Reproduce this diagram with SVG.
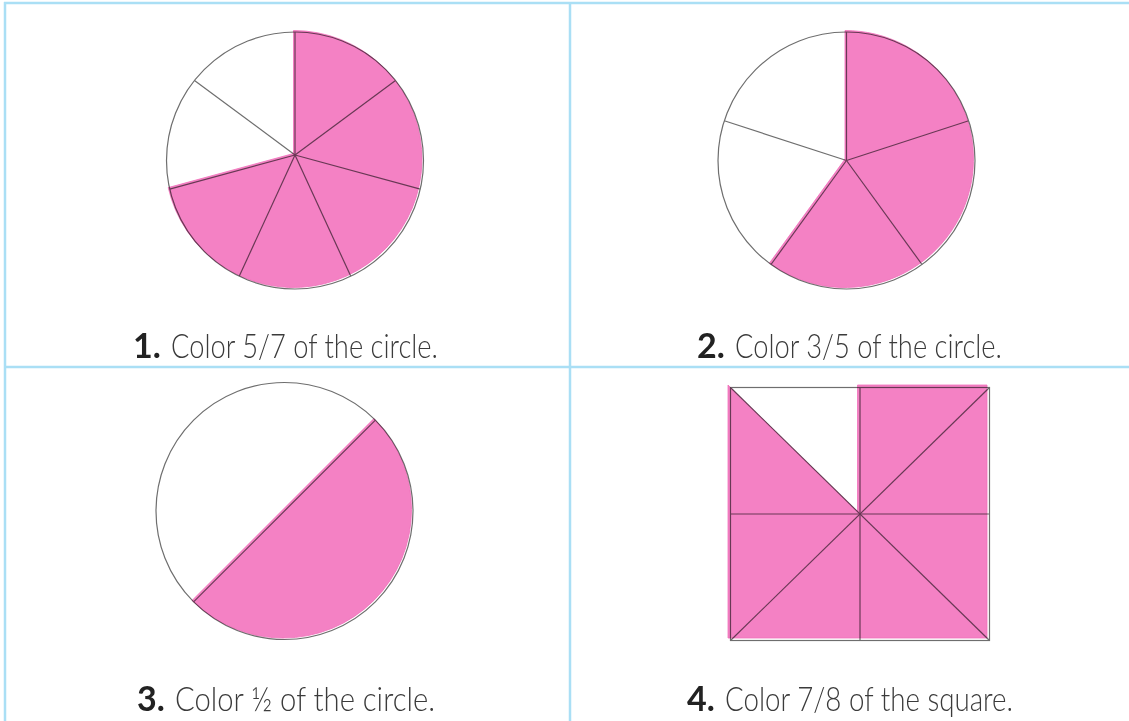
<svg xmlns="http://www.w3.org/2000/svg" width="1129" height="721" viewBox="0 0 1129 721">
<style>
.grid{stroke:#aadff5;stroke-width:2.5;fill:none}
.ol{stroke:#6e6e6e;stroke-width:1.2;fill:none}
.pink{fill:#f481c4;stroke:#f070ba;stroke-width:0.8;mix-blend-mode:multiply}
.lbl{font-family:Lato,"Open Sans","Liberation Sans",sans-serif;font-size:34px;font-weight:300;fill:#3b3b3b}
.num{font-family:Lato,"Open Sans","Liberation Sans",sans-serif;font-size:34px;font-weight:700;fill:#222}
</style>
<rect width="1129" height="721" fill="#fff"/>
<g id="grid">
<line class="grid" x1="4" y1="3" x2="1129" y2="3"/>
<line class="grid" x1="4" y1="367" x2="1129" y2="367"/>
<line class="grid" x1="5" y1="2" x2="5" y2="721"/>
<line class="grid" x1="570" y1="2" x2="570" y2="721"/>
</g>
<g id="fig1">
<circle class="ol" cx="295" cy="160.5" r="128.5"/>
<g class="ol">
<line x1="295" y1="155" x2="295" y2="32"/>
<line x1="295" y1="155" x2="395.5" y2="80.4"/>
<line x1="295" y1="155" x2="420.3" y2="189.1"/>
<line x1="295" y1="155" x2="350.8" y2="276.3"/>
<line x1="295" y1="155" x2="239.2" y2="276.3"/>
<line x1="295" y1="155" x2="169.7" y2="189.1"/>
<line x1="295" y1="155" x2="194.5" y2="80.4"/>
</g>
<path class="pink" transform="translate(-1.5,-1.5)" d="M295,155 L295,32 A128.5,128.5 0 1 1 169.7,189.1 Z"/>
</g>
<g id="fig2">
<circle class="ol" cx="846.5" cy="160.5" r="128.5"/>
<g class="ol">
<line x1="846.5" y1="160.5" x2="846.5" y2="32"/>
<line x1="846.5" y1="160.5" x2="968.7" y2="120.8"/>
<line x1="846.5" y1="160.5" x2="922" y2="264.5"/>
<line x1="846.5" y1="160.5" x2="771" y2="264.5"/>
<line x1="846.5" y1="160.5" x2="724.3" y2="120.8"/>
</g>
<path class="pink" transform="translate(-1.5,-1.5)" d="M846.5,160.5 L846.5,32 A128.5,128.5 0 1 1 771,264.5 Z"/>
</g>
<g id="fig3">
<circle class="ol" cx="284.5" cy="511" r="128.5"/>
<line class="ol" x1="375.4" y1="420.1" x2="193.6" y2="601.9"/>
<path class="pink" transform="translate(-1.5,-1.5)" d="M375.4,420.1 A128.5,128.5 0 0 1 193.6,601.9 Z"/>
</g>
<g id="fig4">
<rect class="ol" x="730.5" y="387.5" width="259" height="253"/>
<g class="ol">
<line x1="860" y1="387.5" x2="860" y2="640.5"/>
<line x1="730.5" y1="514" x2="989.5" y2="514"/>
<line x1="730.5" y1="387.5" x2="989.5" y2="640.5"/>
<line x1="989.5" y1="387.5" x2="730.5" y2="640.5"/>
</g>
<path class="pink" transform="translate(-2.5,-2.5)" d="M730.5,387.5 L860,514 L860,387.5 L989.5,387.5 L989.5,640.5 L730.5,640.5 Z"/>
</g>
<g id="labels">
<text class="num" x="133" y="358">1.</text>
<text class="lbl" x="171" y="358" textLength="267" lengthAdjust="spacingAndGlyphs">Color 5/7 of the circle.</text>
<text class="num" x="697" y="358">2.</text>
<text class="lbl" x="735" y="358" textLength="267" lengthAdjust="spacingAndGlyphs">Color 3/5 of the circle.</text>
<text class="num" x="137" y="711">3.</text>
<text class="lbl" x="175" y="711" textLength="260" lengthAdjust="spacingAndGlyphs">Color ½ of the circle.</text>
<text class="num" x="687" y="711">4.</text>
<text class="lbl" x="725" y="711" textLength="288" lengthAdjust="spacingAndGlyphs">Color 7/8 of the square.</text>
</g>
</svg>
